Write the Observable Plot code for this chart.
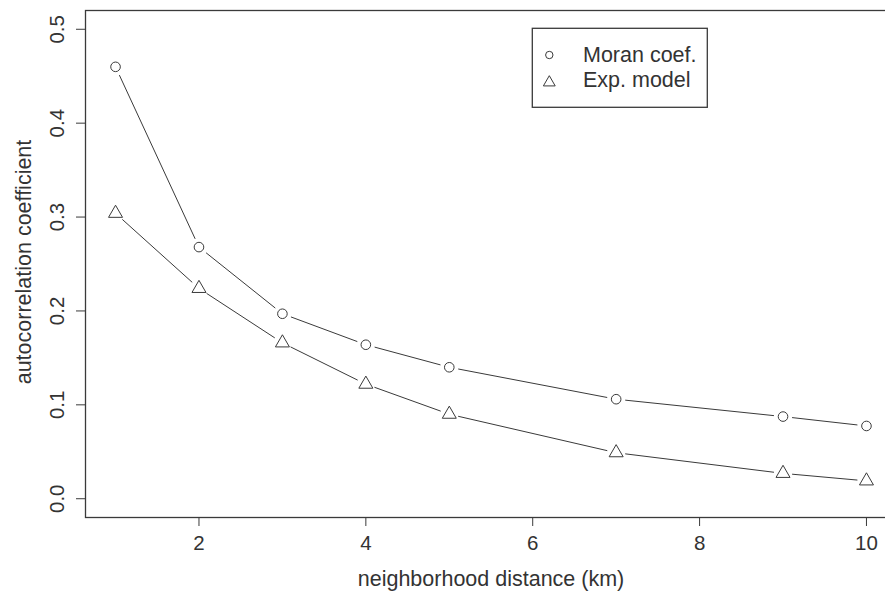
<!DOCTYPE html>
<html><head><meta charset="utf-8">
<script src="https://cdn.jsdelivr.net/npm/d3@7"></script>
<script src="https://cdn.jsdelivr.net/npm/@observablehq/plot@0.6"></script>
<style>
html,body{margin:0;padding:0;background:#fff;overflow:hidden;}
#wrap{position:relative;width:885px;height:592px;}
#legend{position:absolute;left:531px;top:27px;}
</style></head><body><div id="wrap"></div>
<script>
const distance = [1, 2, 3, 4, 5, 7, 9, 10];
const moran = [0.460, 0.268, 0.197, 0.164, 0.140, 0.106, 0.0875, 0.0775];
const expModel = [0.304, 0.224, 0.166, 0.122, 0.090, 0.049, 0.027, 0.019];
const seriesNames = ["Moran coef.", "Exp. model"];
const xTicks = [2, 4, 6, 8, 10];
const yTicks = [0, 0.1, 0.2, 0.3, 0.4, 0.5];
const xLabel = "neighborhood distance (km)";
const yLabel = "autocorrelation coefficient";

const moranRows = distance.map((d, i) => ({x: d, y: moran[i]}));
const expRows = distance.map((d, i) => ({x: d, y: expModel[i]}));
const segs = rows => rows.slice(1).map((r, i) => ({x1: rows[i].x, y1: rows[i].y, x2: r.x, y2: r.y}));
const ink = "#3a3a3a";
const txt = "#333";
const font = "'Liberation Sans', Arial, Helvetica, sans-serif";
const gap = 9.5;

const chart = Plot.plot({
  width: 885, height: 592,
  marginLeft: 85, marginTop: 10, marginBottom: 75, marginRight: -11,
  x: {domain: [0.64, 10.36]},
  y: {domain: [-0.02, 0.52]},
  style: {fontFamily: font, background: "#fff", color: txt, overflow: "hidden"},
  marks: [
    Plot.arrow(segs(moranRows), {x1: "x1", y1: "y1", x2: "x2", y2: "y2", insetStart: gap, insetEnd: gap,
      headLength: 0, stroke: ink, strokeWidth: 1}),
    Plot.arrow(segs(expRows), {x1: "x1", y1: "y1", x2: "x2", y2: "y2", insetStart: gap, insetEnd: gap,
      headLength: 0, stroke: ink, strokeWidth: 1}),
    Plot.dot(moranRows, {x: "x", y: "y", r: 4.8, symbol: "circle", fill: "none", stroke: ink, strokeWidth: 1}),
    Plot.dot(expRows, {x: "x", y: "y", r: 5.2, symbol: "triangle", fill: "none", stroke: ink, strokeWidth: 1}),
    Plot.frame({stroke: ink, strokeWidth: 1.3}),
    Plot.axisX(xTicks, {tickSize: 9, tickPadding: 9, fontSize: 20.5, label: null, stroke: ink, fill: txt}),
    Plot.axisY(yTicks, {tickSize: 9, tickFormat: () => "", label: null, stroke: ink}),
    Plot.text(yTicks, {y: d => d, text: d => d3.format(".1f")(d), frameAnchor: "left", dx: -22,
      rotate: -90, lineAnchor: "bottom", textAnchor: "middle", fontSize: 20.5, fill: txt}),
    Plot.text([xLabel], {text: d => d, frameAnchor: "bottom", dy: 68, lineAnchor: "bottom",
      textAnchor: "middle", fontSize: 21.5, fill: txt}),
    Plot.text([yLabel], {text: d => d, frameAnchor: "left", dx: -55, dy: -2, rotate: -90, lineAnchor: "bottom",
      textAnchor: "middle", fontSize: 21.5, fill: txt})
  ]
});
const wrap = document.getElementById("wrap");
wrap.appendChild(chart);

// legend
const lg = d3.create("svg").attr("id", "legend").attr("width", 180).attr("height", 84)
  .style("font-family", font);
lg.append("rect").attr("x", 1.3).attr("y", 1.3).attr("width", 175).attr("height", 79)
  .attr("fill", "white").attr("stroke", ink).attr("stroke-width", 1.3);
lg.append("circle").attr("cx", 18.3).attr("cy", 28).attr("r", 3.7)
  .attr("fill", "none").attr("stroke", ink);
lg.append("path").attr("transform", "translate(18.3,55.5)")
  .attr("d", d3.symbol(d3.symbolTriangle2, 100)())
  .attr("fill", "none").attr("stroke", ink);
lg.selectAll("text.l").data(seriesNames).join("text")
  .attr("x", 52).attr("y", (d, i) => 34.7 + i * 25)
  .attr("font-size", 21.5).attr("fill", txt).text(d => d);
wrap.appendChild(lg.node());
</script></body></html>
